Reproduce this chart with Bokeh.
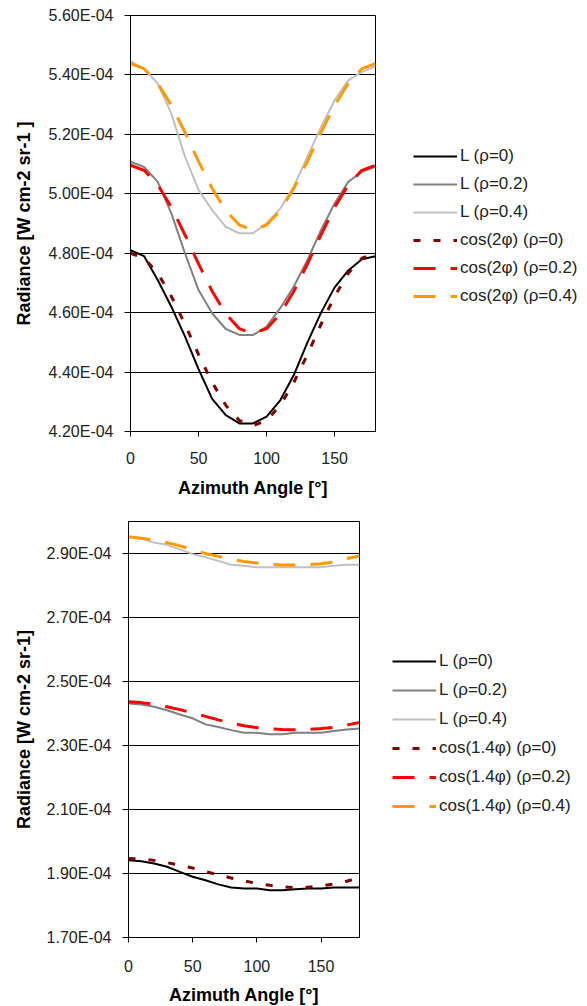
from bokeh.plotting import figure
from bokeh.models import Range1d, FixedTicker, CustomJSTickFormatter, Legend, LegendItem
from bokeh.embed import file_html
from bokeh.resources import INLINE

# ---------------- data ----------------
angle = [0, 10, 20, 30, 40, 50, 60, 70, 80, 90, 100, 110, 120, 130, 140, 150, 160, 170, 180]

# top chart, radiance in units of 1e-4 W cm-2 sr-1
top_L_rho0 = [4.81, 4.79, 4.71, 4.62, 4.52, 4.41, 4.31, 4.255, 4.227, 4.227, 4.25, 4.305, 4.39, 4.50, 4.60, 4.685, 4.742, 4.78, 4.79]
top_L_rho02 = [5.108, 5.09, 5.04, 4.934, 4.80, 4.676, 4.598, 4.545, 4.525, 4.525, 4.553, 4.615, 4.688, 4.777, 4.878, 4.968, 5.04, 5.074, 5.091]
top_L_rho04 = [5.446, 5.421, 5.371, 5.27, 5.125, 5.013, 4.945, 4.889, 4.867, 4.867, 4.901, 4.95, 5.025, 5.125, 5.225, 5.315, 5.382, 5.41, 5.429]
top_cos_rho0 = [4.80, 4.783, 4.733, 4.655, 4.561, 4.459, 4.365, 4.288, 4.237, 4.22, 4.237, 4.288, 4.365, 4.459, 4.561, 4.655, 4.733, 4.783, 4.80]
top_cos_rho02 = [5.096, 5.079, 5.03, 4.955, 4.862, 4.764, 4.672, 4.596, 4.546, 4.53, 4.546, 4.596, 4.672, 4.764, 4.862, 4.955, 5.03, 5.079, 5.096]
top_cos_rho04 = [5.438, 5.421, 5.372, 5.298, 5.207, 5.109, 5.018, 4.944, 4.895, 4.878, 4.895, 4.944, 5.018, 5.109, 5.207, 5.298, 5.372, 5.421, 5.438]

# bottom chart
bot_L_rho0 = [1.9415, 1.938, 1.931, 1.921, 1.905, 1.890, 1.879, 1.866, 1.856, 1.853, 1.853, 1.848, 1.848, 1.851, 1.853, 1.853, 1.856, 1.856, 1.856]
bot_L_rho02 = [2.431, 2.428, 2.421, 2.41, 2.397, 2.385, 2.366, 2.358, 2.348, 2.34, 2.34, 2.335, 2.335, 2.34, 2.34, 2.34, 2.345, 2.35, 2.353]
bot_L_rho04 = [2.9515, 2.946, 2.934, 2.927, 2.913, 2.898, 2.888, 2.877, 2.865, 2.862, 2.857, 2.857, 2.857, 2.857, 2.857, 2.857, 2.862, 2.865, 2.865]
bot_cos_rho0 = [1.947, 1.945, 1.941, 1.934, 1.926, 1.917, 1.906, 1.896, 1.886, 1.877, 1.869, 1.863, 1.858, 1.856, 1.857, 1.861, 1.867, 1.876, 1.887]
bot_cos_rho02 = [2.437, 2.434, 2.429, 2.421, 2.412, 2.402, 2.391, 2.380, 2.370, 2.362, 2.356, 2.352, 2.350, 2.349, 2.350, 2.353, 2.357, 2.364, 2.372]
bot_cos_rho04 = [2.952, 2.948, 2.942, 2.934, 2.924, 2.912, 2.900, 2.891, 2.882, 2.875, 2.870, 2.866, 2.864, 2.864, 2.865, 2.868, 2.873, 2.884, 2.892]

SCALE = 1e-4

top_y_ticks = [4.2e-4, 4.4e-4, 4.6e-4, 4.8e-4, 5.0e-4, 5.2e-4, 5.4e-4, 5.6e-4]
top_y_labels = ["4.20E-04", "4.40E-04", "4.60E-04", "4.80E-04", "5.00E-04", "5.20E-04", "5.40E-04", "5.60E-04"]
bot_y_ticks = [1.7e-4, 1.9e-4, 2.1e-4, 2.3e-4, 2.5e-4, 2.7e-4, 2.9e-4]
bot_y_labels = ["1.70E-04", "1.90E-04", "2.10E-04", "2.30E-04", "2.50E-04", "2.70E-04", "2.90E-04"]
x_ticks = [0, 50, 100, 150]

top_labels = ["L (ρ=0)", "L (ρ=0.2)", "L (ρ=0.4)", "cos(2φ) (ρ=0)", "cos(2φ) (ρ=0.2)", "cos(2φ) (ρ=0.4)"]
bot_labels = ["L (ρ=0)", "L (ρ=0.2)", "L (ρ=0.4)", "cos(1.4φ) (ρ=0)", "cos(1.4φ) (ρ=0.2)", "cos(1.4φ) (ρ=0.4)"]

# styles
styles = [
    dict(color="#000000", width=2, dash="solid"),
    dict(color="#808080", width=2, dash="solid"),
    dict(color="#C0C0C0", width=2, dash="solid"),
    dict(color="#800000", width=3, dash="7 13"),
    dict(color="#FF0000", width=3, dash="22 15"),
    dict(color="#FF9900", width=3, dash="22 15"),
]

FONT = "Liberation Sans"


def make_chart(series, labels, yticks, ylabels, yr, ytitle, fw, fh,
               mb_left, mb_right, mb_top, mb_bottom, x_lab_standoff, x_title_standoff,
               y_title_standoff, legend_loc, legend_spacing):
    p = figure(frame_width=fw, frame_height=fh, output_backend="svg", toolbar_location=None,
               x_range=Range1d(0, 180), y_range=Range1d(*yr),
               min_border_left=mb_left, min_border_right=mb_right,
               min_border_top=mb_top, min_border_bottom=mb_bottom)
    p.background_fill_color = "white"
    p.border_fill_color = "white"
    p.outline_line_color = "black"
    p.outline_line_width = 1

    p.xgrid.grid_line_color = None
    p.ygrid.grid_line_color = "black"
    p.ygrid.grid_line_width = 1

    p.xaxis.ticker = FixedTicker(ticks=x_ticks)
    p.yaxis.ticker = FixedTicker(ticks=yticks)
    p.yaxis.formatter = CustomJSTickFormatter(args=dict(tvals=yticks, tlabs=ylabels), code="""
        let best = 0;
        for (let i = 0; i < tvals.length; i++) {
            if (Math.abs(tvals[i] - tick) < Math.abs(tvals[best] - tick)) best = i;
        }
        return tlabs[best];
    """)

    for ax in (p.xaxis[0], p.yaxis[0]):
        ax.axis_line_color = "black"
        ax.major_tick_line_color = "black"
        ax.minor_tick_line_color = None
        ax.major_tick_in = 0
        ax.major_label_text_font = FONT
        ax.major_label_text_font_size = "16px"
        ax.major_label_text_color = "#222222"
        ax.axis_label_text_font = FONT
        ax.axis_label_text_font_size = "18px"
        ax.axis_label_text_font_style = "bold"
        ax.axis_label_text_color = "black"

    p.xaxis.major_tick_out = 5
    p.yaxis.major_tick_out = 6
    p.xaxis.axis_label = "Azimuth Angle [°]"
    p.yaxis.axis_label = ytitle
    p.xaxis.major_label_standoff = x_lab_standoff
    p.xaxis.axis_label_standoff = x_title_standoff
    p.yaxis.major_label_standoff = 11
    p.yaxis.axis_label_standoff = y_title_standoff

    items = []
    for s, lab, st in zip(series, labels, styles):
        r = p.line(angle, [v * SCALE for v in s], line_color=st["color"],
                   line_width=st["width"], line_dash=st["dash"])
        items.append(LegendItem(label=lab, renderers=[r]))

    legend = Legend(items=items, location=legend_loc)
    legend.border_line_color = None
    legend.background_fill_alpha = 0
    legend.padding = 0
    legend.margin = 0
    legend.spacing = legend_spacing
    legend.glyph_width = 44
    legend.glyph_height = 20
    legend.label_height = 20
    legend.label_standoff = 3
    legend.label_text_font = FONT
    legend.label_text_font_size = "17px"
    legend.label_text_color = "#222222"
    p.add_layout(legend, "right")
    return p


top_series = [top_L_rho0, top_L_rho02, top_L_rho04, top_cos_rho0, top_cos_rho02, top_cos_rho04]
bot_series = [bot_L_rho0, bot_L_rho02, bot_L_rho04, bot_cos_rho0, bot_cos_rho02, bot_cos_rho04]

p1 = make_chart(top_series, top_labels, top_y_ticks, top_y_labels, (4.2e-4, 5.6e-4),
                "Radiance [W cm-2 sr-1 ]", 245, 416, 130, 212, 15, 72, 15, 11, 12,
                (38, 125), 8)
p2 = make_chart(bot_series, bot_labels, bot_y_ticks, bot_y_labels, (1.7e-4, 3.0e-4),
                "Radiance [W cm-2 sr-1]", 231, 416, 128, 228, 18, 69, 17, 10, 10,
                (33, 121), 9)

open("out.html", "w").write(file_html([p1, p2], INLINE))
